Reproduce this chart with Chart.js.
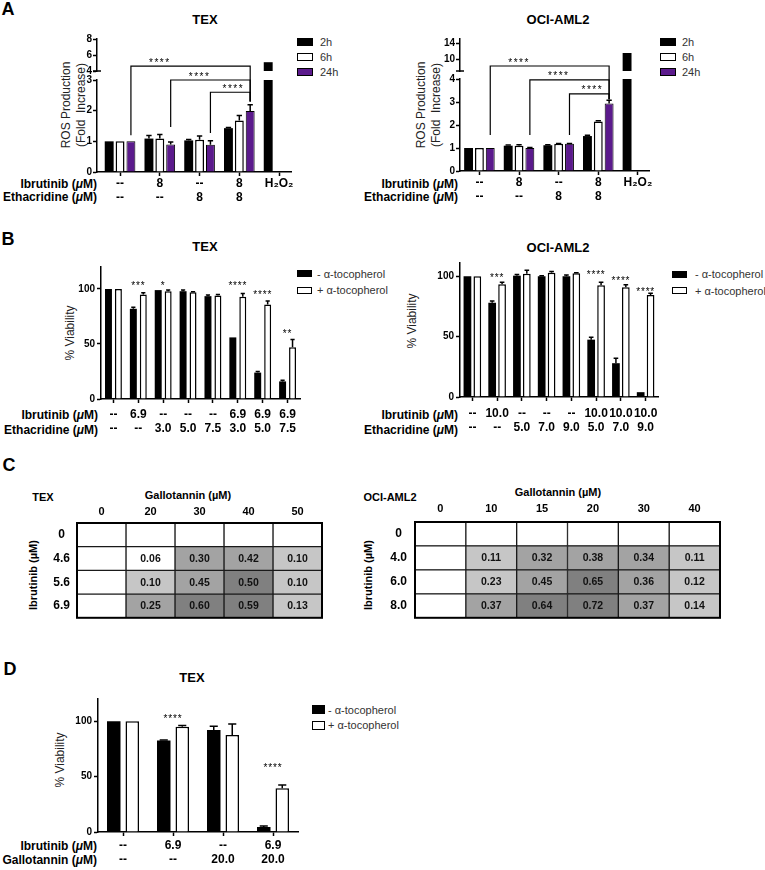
<!DOCTYPE html>
<html>
<head>
<meta charset="utf-8">
<title>ROS, viability and synergy panels</title>
<script src="https://cdn.jsdelivr.net/npm/chart.js@4.4.1/dist/chart.umd.min.js"></script>
<style>
  html, body { margin: 0; padding: 0; background: #fff; }
  body { position: relative; width: 765px; height: 870px; overflow: hidden;
         font-family: "Liberation Sans", Arial, Helvetica, sans-serif; color: #000; }
  canvas { position: absolute; }
  .t { position: absolute; white-space: nowrap; line-height: 1; }
  .panel { font-weight: bold; font-size: 18px; }
  .title { font-weight: bold; font-size: 13px; }
  .ctitle { font-weight: bold; font-size: 11px; }
  .row { font-weight: bold; font-size: 12px; }
  .ytitle { font-size: 12px; color: #222; text-align: center; line-height: 15px; }
  .leg { font-size: 11px; color: #333; }
  .box { position: absolute; box-sizing: border-box; border: 1.5px solid #000; }
</style>
</head>
<body>
<script>
// --- A: ROS production (fold increase) ---
const rosIbrutinib = ['--', '8', '--', '8', 'H₂O₂'];
const rosEthacridine = ['--', '--', '8', '8', ''];
const rosTimes = ['2h', '6h', '24h'];

const texRos2h = [1.00, 1.09, 1.03, 1.43, 5.1];
const texRos6h = [1.00, 1.09, 1.05, 1.68, null];
const texRos24h = [1.00, 0.90, 0.89, 1.99, null];
const texRos2hErr = [0, 0.10, 0.03, 0.02, 0];
const texRos6hErr = [0, 0.13, 0.12, 0.16, 0];
const texRos24hErr = [0, 0.08, 0.13, 0.20, 0];

const ociRos2h = [1.00, 1.10, 1.12, 1.52, 11.5];
const ociRos6h = [1.00, 1.10, 1.18, 2.15, null];
const ociRos24h = [1.00, 1.00, 1.18, 2.93, null];
const ociRos2hErr = [0, 0.03, 0.02, 0.03, 0];
const ociRos6hErr = [0, 0.04, 0.02, 0.04, 0];
const ociRos24hErr = [0, 0.02, 0.02, 0.15, 0];

// broken y axis: lower part, upper part, upper tick values
const texRosLow = [0, 3];
const texRosHigh = [4, 8];
const texRosHighTicks = [4, 6, 8];
const ociRosLow = [0, 4];
const ociRosHigh = [7, 15];
const ociRosHighTicks = [10, 14];

// brackets: group from/to, leg ends, bar height, where the stars sit (group units)
const texRosBrackets = [
  {from: 0, to: 3, left: 1.20, right: 2.30, top: 4.6, at: 1.0},
  {from: 1, to: 3, left: 1.47, right: 2.30, top: 3.0, at: 2.0},
  {from: 2, to: 3, left: 1.27, right: 2.30, top: 2.6, at: 2.85}
];
const ociRosBrackets = [
  {from: 0, to: 3, left: 1.57, right: 3.12, top: 8.25, at: 1.0},
  {from: 1, to: 3, left: 1.57, right: 3.12, top: 3.96, at: 2.0},
  {from: 2, to: 3, left: 1.57, right: 3.12, top: 3.35, at: 2.85}
];

// --- B: % viability +/- alpha-tocopherol ---
const tocoNames = ['- α-tocopherol', '+ α-tocopherol'];

const texViaIbrutinib = ['--', '6.9', '--', '--', '--', '6.9', '6.9', '6.9'];
const texViaEthacridine = ['--', '--', '3.0', '5.0', '7.5', '3.0', '5.0', '7.5'];
const texViaMinus = [100, 82, 99, 98, 93.5, 56, 24, 16];
const texViaPlus = [100, 95, 98, 97, 94, 93, 86, 47];
const texViaMinusErr = [0, 1.5, 0, 1, 1, 0, 1, 1];
const texViaPlusErr = [0, 1.5, 1, 0.5, 1, 3, 3, 7];
const texViaStars = ['', '***', '*', '', '', '****', '****', '**'];
const texViaStarAt = [null, 105, 105, null, null, 105, 97, 61];

const ociViaIbrutinib = ['--', '10.0', '--', '--', '--', '10.0', '10.0', '10.0'];
const ociViaEthacridine = ['--', '--', '5.0', '7.0', '9.0', '5.0', '7.0', '9.0'];
const ociViaMinus = [100, 78, 100.5, 100, 100, 47.5, 28, 4];
const ociViaPlus = [100, 93.5, 102, 103, 102.5, 92.5, 91, 84.5];
const ociViaMinusErr = [0, 1.5, 1, 0.5, 1, 2, 4, 0];
const ociViaPlusErr = [0, 1.5, 3, 1, 0.5, 2.5, 2, 1.5];
const ociViaStars = ['', '***', '', '', '', '****', '****', '****'];
const ociViaStarAt = [null, 101, null, null, null, 103, 98, 89];

// --- C: synergy grids (ibrutinib rows x gallotannin columns) ---
const texGallo = ['0', '20', '30', '40', '50'];
const texGridIbrutinib = ['0', '4.6', '5.6', '6.9'];
const texSynergy = [
  [null, null, null, null, null],
  [null, 0.06, 0.30, 0.42, 0.10],
  [null, 0.10, 0.45, 0.50, 0.10],
  [null, 0.25, 0.60, 0.59, 0.13]
];
const ociGallo = ['0', '10', '15', '20', '30', '40'];
const ociGridIbrutinib = ['0', '4.0', '6.0', '8.0'];
const ociSynergy = [
  [null, null, null, null, null, null],
  [null, 0.11, 0.32, 0.38, 0.34, 0.11],
  [null, 0.23, 0.45, 0.65, 0.36, 0.12],
  [null, 0.37, 0.64, 0.72, 0.37, 0.14]
];

// --- D: gallotannin viability ---
const galIbrutinib = ['--', '6.9', '--', '6.9'];
const galGallotannin = ['--', '--', '20.0', '20.0'];
const galMinus = [100, 82.5, 92, 4.5];
const galPlus = [100, 95, 87.5, 39.5];
const galMinusErr = [0, 0.5, 3.5, 1];
const galPlusErr = [0, 1, 10, 3];
const galStars = ['', '****', '', '****'];
const galStarAt = [null, 104, null, 60];

// ---------------------------------------------------------------
const FONT = "'Liberation Sans', Arial, Helvetica, sans-serif";
const PURPLE = '#5b1a8c';
Chart.defaults.font.family = FONT;
Chart.defaults.color = '#000';
Chart.defaults.animation = false;
Chart.defaults.plugins.legend.display = false;
Chart.defaults.plugins.tooltip.enabled = false;

// error bars (upper half only, like the original)
Chart.register({
  id: 'errbars',
  afterDatasetsDraw(chart) {
    const ctx = chart.ctx;
    chart.data.datasets.forEach((ds, i) => {
      if (!ds.errors) return;
      const meta = chart.getDatasetMeta(i);
      const scale = chart.scales[meta.yAxisID];
      ctx.save();
      ctx.strokeStyle = '#000';
      ctx.lineWidth = 1.5;
      meta.data.forEach((bar, j) => {
        const err = ds.errors[j];
        const v = ds.data[j];
        if (!err || v == null) return;
        const top = scale.getPixelForValue(v + err);
        const half = bar.width * 0.3;
        ctx.beginPath();
        ctx.moveTo(bar.x, bar.y);
        ctx.lineTo(bar.x, top);
        ctx.moveTo(bar.x - half, top);
        ctx.lineTo(bar.x + half, top);
        ctx.stroke();
      });
      ctx.restore();
    });
  }
});

function starsPlugin(labels, levels) {
  return {
    id: 'stars',
    afterDatasetsDraw(chart) {
      const {ctx, scales: {x, y}} = chart;
      ctx.save();
      ctx.font = '10px ' + FONT;
      ctx.letterSpacing = '0.8px';
      ctx.fillStyle = '#000';
      ctx.textAlign = 'center';
      labels.forEach((s, i) => {
        if (!s) return;
        ctx.fillText(s, x.getPixelForValue(i), y.getPixelForValue(levels[i]) + 5.5);
      });
      ctx.restore();
    }
  };
}

function bracketPlugin(list) {
  return {
    id: 'brackets',
    afterDatasetsDraw(chart) {
      const {ctx} = chart;
      const low = chart.scales.yLow, high = chart.scales.yHigh, x = chart.scales.x;
      const yOf = v => (v > low.max ? high : low).getPixelForValue(v);
      const bars = chart.getDatasetMeta(2).data;
      ctx.save();
      ctx.strokeStyle = '#000';
      ctx.lineWidth = 1.2;
      ctx.fillStyle = '#000';
      ctx.font = '10px ' + FONT;
      ctx.letterSpacing = '1.5px';
      ctx.textAlign = 'center';
      list.forEach(b => {
        const x0 = bars[b.from].x, x1 = bars[b.to].x, yt = yOf(b.top);
        ctx.beginPath();
        ctx.moveTo(x0, yOf(b.left));
        ctx.lineTo(x0, yt);
        ctx.lineTo(x1, yt);
        ctx.lineTo(x1, yOf(b.right));
        ctx.stroke();
        ctx.fillText('****', x.getPixelForValue(b.at), yt - 0.5);
      });
      // axis break marks
      const ax = high.right;
      ctx.lineWidth = 1.5;
      ctx.beginPath();
      ctx.moveTo(ax - 4, high.bottom);
      ctx.lineTo(ax + 4, high.bottom);
      ctx.stroke();
      ctx.restore();
    }
  };
}

function cellsPlugin(values) {
  return {
    id: 'cells',
    afterDatasetsDraw(chart) {
      const ctx = chart.ctx, a = chart.chartArea;
      ctx.save();
      ctx.font = 'bold 10.5px ' + FONT;
      ctx.fillStyle = '#111';
      ctx.textAlign = 'center';
      ctx.textBaseline = 'middle';
      chart.data.datasets.forEach((ds, j) => {
        chart.getDatasetMeta(j).data.forEach((cell, i) => {
          const v = values[i][j];
          if (v == null) return;
          ctx.fillText(v.toFixed(2), (cell.x + cell.base) / 2, cell.y + 0.5);
        });
      });
      ctx.strokeStyle = '#000';
      ctx.lineWidth = 2;
      ctx.strokeRect(a.left, a.top, a.right - a.left, a.bottom - a.top);
      ctx.restore();
    }
  };
}

// canvas so that the plot area lands on `area` = [left, top, right, bottom]
function canvasFor(area, yW, xH, xTop) {
  const pad = {left: 4, top: 10, right: 8, bottom: 4};
  const c = document.createElement('canvas');
  c.width = area[2] - area[0] + yW + pad.left + pad.right;
  c.height = area[3] - area[1] + xH + pad.top + pad.bottom;
  c.style.left = (area[0] - yW - pad.left) + 'px';
  c.style.top = (area[1] - pad.top - (xTop ? xH : 0)) + 'px';
  document.body.appendChild(c);
  return {canvas: c, pad};
}

function groupAxis(height, pad, gaps, count) {
  return {
    type: 'category',
    offset: true,
    grid: {display: true, offset: false, drawOnChartArea: false, tickLength: 4, tickWidth: 1.5, tickColor: '#000'},
    border: {color: '#000', width: 1.5},
    ticks: {font: {size: 12, weight: 'bold', lineHeight: 1.17}, color: '#000', padding: pad,
            maxRotation: 0, minRotation: 0, autoSkip: false},
    afterBuildTicks: gaps ? s => { s._startValue = -gaps[0]; s._valueRange = count - 1 + gaps[0] + gaps[1]; } : undefined,
    afterFit: s => { s.height = height; }
  };
}

function valueAxis(width, pad, opts) {
  return Object.assign({
    type: 'linear',
    stacked: false,
    grid: {display: true, drawOnChartArea: false, tickLength: 4, tickWidth: 1.5, tickColor: '#000'},
    border: {color: '#000', width: 1.5},
    afterFit: s => { s.width = width; }
  }, opts, {
    ticks: Object.assign({font: {size: 10, weight: 'bold'}, color: '#000', padding: pad,
                          includeBounds: false, autoSkip: false}, opts.ticks || {})
  });
}

function rosChart(area, gaps, parts, d2, e2, d6, e6, d24, e24, low, high, highTicks, brackets) {
  const {canvas, pad} = canvasFor(area, 30, 30, false);
  new Chart(canvas, {
    type: 'bar',
    data: {
      labels: rosIbrutinib.map((r, i) => [r, rosEthacridine[i]]),
      datasets: [
        {label: rosTimes[0], data: d2.map(v => v == null ? null : Math.min(v, low[1])), errors: e2,
         yAxisID: 'yLow', stack: 'a', backgroundColor: '#000', borderWidth: 0},
        {label: rosTimes[1], data: d6, errors: e6, yAxisID: 'yLow', stack: 'b',
         backgroundColor: '#fff', borderColor: '#000', borderWidth: 1.5},
        {label: rosTimes[2], data: d24, errors: e24, yAxisID: 'yLow', stack: 'c',
         backgroundColor: PURPLE, borderColor: '#000', borderWidth: 1},
        {label: rosTimes[0], data: d2.map(v => v != null && v > low[1] ? v : null),
         yAxisID: 'yHigh', stack: 'a', backgroundColor: '#000', borderWidth: 0}
      ]
    },
    options: {
      responsive: false,
      devicePixelRatio: 1,
      layout: {padding: pad},
      datasets: {bar: {categoryPercentage: 0.82, barPercentage: 0.82}},
      scales: {
        x: groupAxis(30, 1, gaps, rosIbrutinib.length),
        yHigh: valueAxis(30, 1, {position: 'left', stack: 'ros', stackWeight: parts[0], weight: 2,
          min: high[0], max: high[1],
          afterBuildTicks: s => { s.ticks = highTicks.map(v => ({value: v})); }}),
        yGap: {type: 'linear', position: 'left', stack: 'ros', stackWeight: parts[1], weight: 1,
          ticks: {display: false}, grid: {display: false}, border: {display: false},
          afterFit: s => { s.width = 30; }},
        yLow: valueAxis(30, 1, {position: 'left', stack: 'ros', stackWeight: parts[2], weight: 0,
          min: low[0], max: low[1], ticks: {stepSize: 1}})
      }
    },
    plugins: [bracketPlugin(brackets)]
  });
}

function viabilityChart(area, cfg) {
  const {canvas, pad} = canvasFor(area, 35, 34, false);
  new Chart(canvas, {
    type: 'bar',
    data: {
      labels: cfg.rows1.map((r, i) => [r, cfg.rows2[i]]),
      datasets: [
        {label: tocoNames[0], data: cfg.minus, errors: cfg.minusErr, backgroundColor: '#000', borderWidth: 0},
        {label: tocoNames[1], data: cfg.plus, errors: cfg.plusErr, backgroundColor: '#fff',
         borderColor: '#000', borderWidth: 1.5}
      ]
    },
    options: {
      responsive: false,
      devicePixelRatio: 1,
      layout: {padding: pad},
      datasets: {bar: {categoryPercentage: cfg.cat, barPercentage: cfg.bar}},
      scales: {
        x: groupAxis(34, cfg.tickPad, null, cfg.rows1.length),
        y: valueAxis(35, 2, {min: 0, max: cfg.yMax, ticks: {stepSize: 50}})
      }
    },
    plugins: [starsPlugin(cfg.stars, cfg.starAt)]
  });
}

function shade(v) {
  if (v == null || v < 0.1) return '#ffffff';
  if (v < 0.25) return '#c6c6c6';
  if (v < 0.5) return '#a3a3a3';
  return '#808080';
}

function gridChart(area, rows, cols, values, rowPad, colPad) {
  const {canvas, pad} = canvasFor(area, 30, 18, true);
  new Chart(canvas, {
    type: 'bar',
    data: {
      labels: rows,
      datasets: cols.map((c, j) => ({
        label: c,
        data: rows.map(() => 1),
        backgroundColor: rows.map((r, i) => shade(values[i][j])),
        borderColor: '#1a1a1a',
        borderWidth: 1,
        borderSkipped: false,
        barPercentage: 1,
        categoryPercentage: 1
      }))
    },
    options: {
      indexAxis: 'y',
      responsive: false,
      devicePixelRatio: 1,
      layout: {padding: pad},
      scales: {
        x: {type: 'linear', stacked: true, min: 0, max: cols.length, display: false},
        xTop: {type: 'category', labels: cols, position: 'top', offset: true,
          grid: {display: false, drawTicks: false}, border: {display: false},
          ticks: {font: {size: 11, weight: 'bold'}, color: '#000', padding: colPad, maxRotation: 0, autoSkip: false},
          afterFit: s => { s.height = 18; }},
        y: {stacked: true, grid: {display: false, drawTicks: false}, border: {display: false},
          ticks: {font: {size: 12, weight: 'bold'}, color: '#000', padding: rowPad, crossAlign: 'center'},
          afterFit: s => { s.width = 30; }}
      }
    },
    plugins: [cellsPlugin(values)]
  });
}

// ---------- html text ----------
function put(html, x, y, cls, align, rotate) {
  const d = document.createElement('div');
  d.className = 't ' + cls;
  d.innerHTML = html;
  d.style.left = x + 'px';
  d.style.top = y + 'px';
  const tx = align === 'right' ? '-100%' : align === 'left' ? '0' : '-50%';
  d.style.transform = 'translate(' + tx + ', -50%)' + (rotate ? ' rotate(-90deg)' : '');
  document.body.appendChild(d);
}

function legend(boxX, textX, y0, step, bw, bh, names, fills) {
  names.forEach((n, i) => {
    const cy = y0 + i * step;
    const b = document.createElement('div');
    b.className = 'box';
    b.style.left = boxX + 'px';
    b.style.top = (cy - bh / 2) + 'px';
    b.style.width = bw + 'px';
    b.style.height = bh + 'px';
    b.style.background = fills[i];
    document.body.appendChild(b);
    put(n, textX, cy, 'leg', 'left');
  });
}

const MU = '(<i>μ</i>M)';

// ---------- panel A ----------
put('A', 8, 9, 'panel');
put('TEX', 205, 19, 'title');
put('OCI-AML2', 558, 19, 'title');
put('ROS Production<br>(Fold&nbsp; Increase)', 73.5, 105, 'ytitle', 'center', true);
put('ROS Production<br>(Fold&nbsp; Increase)', 428.5, 105, 'ytitle', 'center', true);
put('Ibrutinib ' + MU, 97, 184, 'row', 'right');
put('Ethacridine ' + MU, 97, 197, 'row', 'right');
put('Ibrutinib ' + MU, 458, 184, 'row', 'right');
put('Ethacridine ' + MU, 458, 197, 'row', 'right');
legend(297, 320, 42, 15, 16, 8, rosTimes, ['#000', '#fff', PURPLE]);
legend(660, 682, 42, 15, 16, 8, rosTimes, ['#000', '#fff', PURPLE]);

rosChart([97, 39, 291, 172], [0.58, 0.30], [32, 9, 92],
  texRos2h, texRos2hErr, texRos6h, texRos6hErr, texRos24h, texRos24hErr,
  texRosLow, texRosHigh, texRosHighTicks, texRosBrackets);
rosChart([460, 39, 649, 171], [0.49, 0.28], [32, 8, 92],
  ociRos2h, ociRos2hErr, ociRos6h, ociRos6hErr, ociRos24h, ociRos24hErr,
  ociRosLow, ociRosHigh, ociRosHighTicks, ociRosBrackets);

// ---------- panel B ----------
put('B', 8, 239, 'panel');
put('TEX', 205, 246, 'title');
put('OCI-AML2', 558, 247, 'title');
put('% Viability', 70, 333, 'ytitle', 'center', true);
put('% Viability', 412, 321, 'ytitle', 'center', true);
put('Ibrutinib ' + MU, 98, 415, 'row', 'right');
put('Ethacridine ' + MU, 98, 430, 'row', 'right');
put('Ibrutinib ' + MU, 458, 415, 'row', 'right');
put('Ethacridine ' + MU, 458, 430, 'row', 'right');
legend(297, 317, 273.5, 16.5, 15, 7, tocoNames, ['#000', '#fff']);
legend(672, 695, 274, 16.5, 15, 7, tocoNames, ['#000', '#fff']);

viabilityChart([101, 267, 300, 399], {
  rows1: texViaIbrutinib, rows2: texViaEthacridine,
  minus: texViaMinus, minusErr: texViaMinusErr, plus: texViaPlus, plusErr: texViaPlusErr,
  stars: texViaStars, starAt: texViaStarAt, yMax: 120, cat: 0.8, bar: 0.7, tickPad: 5
});
viabilityChart([460, 263, 658, 397], {
  rows1: ociViaIbrutinib, rows2: ociViaEthacridine,
  minus: ociViaMinus, minusErr: ociViaMinusErr, plus: ociViaPlus, plusErr: ociViaPlusErr,
  stars: ociViaStars, starAt: ociViaStarAt, yMax: 111, cat: 0.8, bar: 0.78, tickPad: 6
});

// ---------- panel C ----------
put('C', 9, 465, 'panel');
put('TEX', 43, 497, 'ctitle');
put('Gallotannin (µM)', 188, 495, 'ctitle');
put('OCI-AML2', 390, 497, 'ctitle');
put('Gallotannin (µM)', 558, 492, 'ctitle');
put('Ibrutinib (µM)', 33, 575, 'ctitle', 'center', true);
put('Ibrutinib (µM)', 368, 575, 'ctitle', 'center', true);

gridChart([77, 523, 322, 628], texGridIbrutinib, texGallo, texSynergy, 7, 4);
gridChart([415, 522, 720, 629], ociGridIbrutinib, ociGallo, ociSynergy, 8, 6);

// ---------- panel D ----------
put('D', 10, 669, 'panel');
put('TEX', 192, 677, 'title');
put('% Viability', 60, 760, 'ytitle', 'center', true);
put('Ibrutinib ' + MU, 97, 846, 'row', 'right');
put('Gallotannin ' + MU, 97, 860, 'row', 'right');
legend(312, 328, 709.5, 15.5, 13, 9, tocoNames, ['#000', '#fff']);

viabilityChart([98, 699, 298, 832], {
  rows1: galIbrutinib, rows2: galGallotannin,
  minus: galMinus, minusErr: galMinusErr, plus: galPlus, plusErr: galPlusErr,
  stars: galStars, starAt: galStarAt, yMax: 120, cat: 0.74, bar: 0.73, tickPad: 3
});
</script>
</body>
</html>
